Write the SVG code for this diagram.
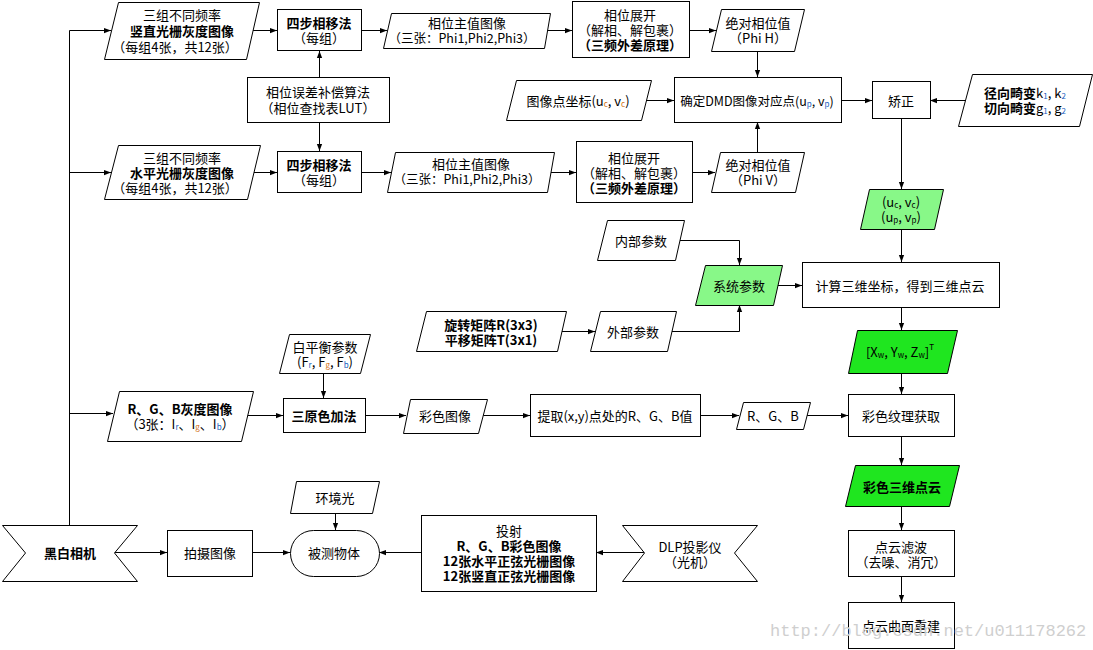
<svg xmlns="http://www.w3.org/2000/svg" width="1093" height="650" viewBox="0 0 1093 650">
<defs>
<style>
.n{fill:#fff;stroke:#000;stroke-width:1}
.lg{fill:#88f888;stroke:#000;stroke-width:1}
.bg{fill:#1fe61f;stroke:#000;stroke-width:1}
.c{fill:none;stroke:#000;stroke-width:1;marker-end:url(#a)}
.l{fill:none;stroke:#000;stroke-width:1}
text{font-family:"Noto Sans CJK SC","Liberation Sans",sans-serif;font-size:13px;text-anchor:middle;dominant-baseline:central;fill:#000}
.b{font-weight:bold}
.s{font-size:8px}
.o{fill:#d07010}
.u{fill:#2060c0}
.wm{font-family:"Liberation Mono",monospace;font-size:17px;fill:#cfcfcf;text-anchor:start}
</style>
<marker id="a" viewBox="0 0 8 8" refX="8" refY="4" markerWidth="7" markerHeight="7" markerUnits="userSpaceOnUse" orient="auto"><path d="M0,1 L8,4 L0,7 Z" fill="#000"/></marker>
</defs>
<rect width="1093" height="650" fill="#fff"/>

<g id="connectors">
<path class="l" d="M69.5,525 V30.5"/>
<path class="c" d="M69.5,30.5 H111"/>
<path class="c" d="M69.5,172.5 H111"/>
<path class="c" d="M69.5,413.5 H113"/>
<path class="c" d="M253,30.5 H277"/>
<path class="c" d="M254,172.5 H277"/>
<path class="c" d="M361,30.5 H387"/>
<path class="c" d="M361,172.5 H391"/>
<path class="c" d="M547,30.5 H572"/>
<path class="c" d="M551,172.5 H576"/>
<path class="c" d="M689,30.5 H716"/>
<path class="c" d="M692,172.5 H715"/>
<path class="c" d="M319.5,77 V51"/>
<path class="c" d="M319.5,122 V151"/>
<path class="c" d="M757.5,51 V77"/>
<path class="c" d="M757.5,152 V122"/>
<path class="c" d="M646,100.5 H674"/>
<path class="c" d="M841,100.5 H872"/>
<path class="c" d="M965,100.5 H930"/>
<path class="c" d="M901.5,118 V189"/>
<path class="c" d="M901.5,229 V262"/>
<path class="c" d="M680,240.5 H739.5 V265"/>
<path class="c" d="M671,331.5 H739.5 V305"/>
<path class="c" d="M561,331.5 H595"/>
<path class="c" d="M777,285.5 H802"/>
<path class="c" d="M901.5,307 V330"/>
<path class="c" d="M901.5,373 V394"/>
<path class="c" d="M901.5,436 V465"/>
<path class="c" d="M901.5,506 V530"/>
<path class="c" d="M901.5,576 V602"/>
<path class="c" d="M323.5,373 V398"/>
<path class="c" d="M247,415.5 H283"/>
<path class="c" d="M365,415.5 H406"/>
<path class="c" d="M483,415.5 H530"/>
<path class="c" d="M700,415.5 H739"/>
<path class="c" d="M807,415.5 H848"/>
<path class="c" d="M114,552.5 H167"/>
<path class="c" d="M252,552.5 H290"/>
<path class="c" d="M421,552.5 H379"/>
<path class="c" d="M644,552.5 H596"/>
<path class="c" d="M335.5,513 V530"/>
</g>

<g id="vgray">
<polygon class="n" points="118.5,2.5 259.5,2.5 246.5,59.5 104.5,59.5"/>
<text x="182" y="14">三组不同频率</text>
<text x="182" y="30" class="b">竖直光栅灰度图像</text>
<text x="175" y="46">（每组4张，共12张）</text>
</g>
<g id="hgray">
<polygon class="n" points="118.5,145.5 260.5,145.5 247.5,199.5 104.5,199.5"/>
<text x="182" y="157">三组不同频率</text>
<text x="182" y="172" class="b">水平光栅灰度图像</text>
<text x="175" y="187">（每组4张，共12张）</text>
</g>
<g id="step4a">
<rect class="n" x="277.5" y="9.5" width="84" height="41"/>
<text x="319" y="22" class="b">四步相移法</text>
<text x="319" y="37">（每组）</text>
</g>
<g id="step4b">
<rect class="n" x="277.5" y="151.5" width="84" height="41"/>
<text x="319" y="164" class="b">四步相移法</text>
<text x="319" y="179">（每组）</text>
</g>
<g id="lut">
<rect class="n" x="247.5" y="77.5" width="142" height="45"/>
<text x="318" y="91">相位误差补偿算法</text>
<text x="318" y="107">（相位查找表LUT）</text>
</g>
<g id="phasea">
<polygon class="n" points="391.5,13.5 550.5,13.5 544.5,48.5 383.5,48.5"/>
<text x="467" y="22">相位主值图像</text>
<text x="462" y="37" style="font-size:12.5px">（三张：Phi1,Phi2,Phi3）</text>
</g>
<g id="phaseb">
<polygon class="n" points="395.5,152.5 554.5,152.5 547.5,192.5 387.5,192.5"/>
<text x="471" y="163">相位主值图像</text>
<text x="467" y="178" style="font-size:12.5px">（三张：Phi1,Phi2,Phi3）</text>
</g>
<g id="unwrapa">
<rect class="n" x="572.5" y="1.5" width="117" height="56"/>
<text x="630" y="14">相位展开</text>
<text x="630" y="29">（解相、解包裹）</text>
<text x="630" y="44" class="b">（三频外差原理）</text>
</g>
<g id="unwrapb">
<rect class="n" x="576.5" y="141.5" width="116" height="61"/>
<text x="634" y="157">相位展开</text>
<text x="634" y="172">（解相、解包裹）</text>
<text x="634" y="187" class="b">（三频外差原理）</text>
</g>
<g id="absh">
<polygon class="n" points="721.5,9.5 804.5,9.5 794.5,51.5 711.5,51.5"/>
<text x="758" y="22">绝对相位值</text>
<text x="758" y="37">（Phi H）</text>
</g>
<g id="absv">
<polygon class="n" points="720.5,152.5 804.5,152.5 795.5,192.5 711.5,192.5"/>
<text x="758" y="164">绝对相位值</text>
<text x="758" y="179">（Phi V）</text>
</g>
<g id="imgpt">
<polygon class="n" points="516.5,80.5 651.5,80.5 641.5,120.5 506.5,120.5"/>
<text x="578" y="100">图像点坐标(u<tspan class="s o" dy="3">c</tspan><tspan dy="-3">, v</tspan><tspan class="s o" dy="3">c</tspan><tspan dy="-3">)</tspan></text>
</g>
<g id="dmd">
<rect class="n" x="674.5" y="77.5" width="167" height="45"/>
<text x="757" y="100" style="font-size:12.5px">确定DMD图像对应点(u<tspan class="s u" dy="3">p</tspan><tspan dy="-3">, v</tspan><tspan class="s u" dy="3">p</tspan><tspan dy="-3">)</tspan></text>
</g>
<g id="correct">
<rect class="n" x="872.5" y="81.5" width="58" height="37"/>
<text x="901" y="100">矫正</text>
</g>
<g id="distort">
<polygon class="n" points="972.5,74.5 1092.5,74.5 1079.5,126.5 958.5,126.5"/>
<text x="1025" y="92"><tspan class="b">径向畸变</tspan>k<tspan class="s u" dy="3">1</tspan><tspan dy="-3">, k</tspan><tspan class="s u" dy="3">2</tspan></text>
<text x="1025" y="107"><tspan class="b">切向畸变</tspan>g<tspan class="s u" dy="3">1</tspan><tspan dy="-3">, g</tspan><tspan class="s u" dy="3">2</tspan></text>
</g>
<g id="uvgreen">
<polygon class="lg" points="869.5,189.5 943.5,189.5 934.5,229.5 860.5,229.5"/>
<text x="901" y="201">(u<tspan class="s" dy="3">c</tspan><tspan dy="-3">, v</tspan><tspan class="s" dy="3">c</tspan><tspan dy="-3">)</tspan></text>
<text x="901" y="216">(u<tspan class="s" dy="3">p</tspan><tspan dy="-3">, v</tspan><tspan class="s" dy="3">p</tspan><tspan dy="-3">)</tspan></text>
</g>
<g id="intrinsic">
<polygon class="n" points="607.5,220.5 684.5,220.5 675.5,260.5 597.5,260.5"/>
<text x="641" y="240">内部参数</text>
</g>
<g id="sysparam">
<polygon class="lg" points="705.5,265.5 782.5,265.5 773.5,305.5 695.5,305.5"/>
<text x="739" y="285">系统参数</text>
</g>
<g id="rt">
<polygon class="n" points="426.5,311.5 566.5,311.5 557.5,351.5 416.5,351.5"/>
<text x="491" y="324" class="b">旋转矩阵R(3x3)</text>
<text x="491" y="339" class="b">平移矩阵T(3x1)</text>
</g>
<g id="extrinsic">
<polygon class="n" points="600.5,311.5 676.5,311.5 667.5,351.5 590.5,351.5"/>
<text x="633" y="331">外部参数</text>
</g>
<g id="calc3d">
<rect class="n" x="802.5" y="262.5" width="197" height="45"/>
<text x="900" y="285">计算三维坐标，得到三维点云</text>
</g>
<g id="xyz">
<polygon class="bg" points="857.5,330.5 957.5,330.5 947.5,373.5 848.5,373.5"/>
<text x="900" y="351">[X<tspan class="s" dy="3">w</tspan><tspan dy="-3">, Y</tspan><tspan class="s" dy="3">w</tspan><tspan dy="-3">, Z</tspan><tspan class="s" dy="3">w</tspan><tspan dy="-3">]</tspan><tspan class="s" dy="-5">T</tspan></text>
</g>
<g id="wb">
<polygon class="n" points="289.5,334.5 370.5,334.5 360.5,373.5 279.5,373.5"/>
<text x="325" y="346">白平衡参数</text>
<text x="325" y="361">(F<tspan class="s u" dy="3">r</tspan><tspan dy="-3">, F</tspan><tspan class="s o" dy="3">g</tspan><tspan dy="-3">, F</tspan><tspan class="s u" dy="3">b</tspan><tspan dy="-3">)</tspan></text>
</g>
<g id="rgbgray">
<polygon class="n" points="119.5,391.5 253.5,391.5 241.5,441.5 107.5,441.5"/>
<text x="180" y="408" class="b">R、G、B灰度图像</text>
<text x="180" y="423">（3张：I<tspan class="s u" dy="3">r</tspan><tspan dy="-3">、I</tspan><tspan class="s o" dy="3">g</tspan><tspan dy="-3">、I</tspan><tspan class="s u" dy="3">b</tspan><tspan dy="-3">）</tspan></text>
</g>
<g id="additive">
<rect class="n" x="283.5" y="398.5" width="82" height="34"/>
<text x="324" y="415" class="b">三原色加法</text>
</g>
<g id="colorimg">
<polygon class="n" points="410.5,399.5 487.5,399.5 478.5,433.5 403.5,433.5"/>
<text x="445" y="415">彩色图像</text>
</g>
<g id="extract">
<rect class="n" x="530.5" y="394.5" width="170" height="42"/>
<text x="615" y="415">提取(x,y)点处的R、G、B值</text>
</g>
<g id="rgbval">
<polygon class="n" points="743.5,402.5 810.5,402.5 803.5,429.5 736.5,429.5"/>
<text x="773" y="415">R、G、B</text>
</g>
<g id="texture">
<rect class="n" x="848.5" y="394.5" width="106" height="42"/>
<text x="901" y="415">彩色纹理获取</text>
</g>
<g id="colorcloud">
<polygon class="bg" points="855.5,465.5 959.5,465.5 949.5,506.5 845.5,506.5"/>
<text x="902" y="486" class="b">彩色三维点云</text>
</g>
<g id="filter">
<rect class="n" x="848.5" y="530.5" width="106" height="46"/>
<text x="901" y="546">点云滤波</text>
<text x="901" y="561">（去噪、消冗）</text>
</g>
<g id="surface">
<rect class="n" x="848.5" y="602.5" width="106" height="46"/>
<text x="901" y="625">点云曲面重建</text>
</g>
<g id="camera">
<path class="n" d="M2.5,525.5 H137.5 L114.5,553 L137.5,581.5 H2.5 L25.5,553 Z"/>
<text x="70" y="552" class="b">黑白相机</text>
</g>
<g id="capture">
<rect class="n" x="167.5" y="530.5" width="85" height="46"/>
<text x="210" y="552">拍摄图像</text>
</g>
<g id="object">
<rect class="n" x="290.5" y="530.5" width="89" height="46" rx="23" ry="23"/>
<text x="334" y="552">被测物体</text>
</g>
<g id="ambient">
<polygon class="n" points="296.5,481.5 379.5,481.5 372.5,513.5 290.5,513.5"/>
<text x="335" y="497">环境光</text>
</g>
<g id="project">
<rect class="n" x="421.5" y="515.5" width="175" height="76"/>
<text x="509" y="530">投射</text>
<text x="509" y="545" class="b">R、G、B彩色图像</text>
<text x="509" y="560" class="b">12张水平正弦光栅图像</text>
<text x="509" y="575" class="b">12张竖直正弦光栅图像</text>
</g>
<g id="dlp">
<path class="n" d="M622.5,525.5 H757.5 L734.5,553 L757.5,581.5 H622.5 L644.5,553 Z"/>
<text x="690" y="546">DLP投影仪</text>
<text x="690" y="561">（光机）</text>
</g>
<text class="wm" x="770" y="631">http://blog.csdn.net/u011178262</text>
</svg>
